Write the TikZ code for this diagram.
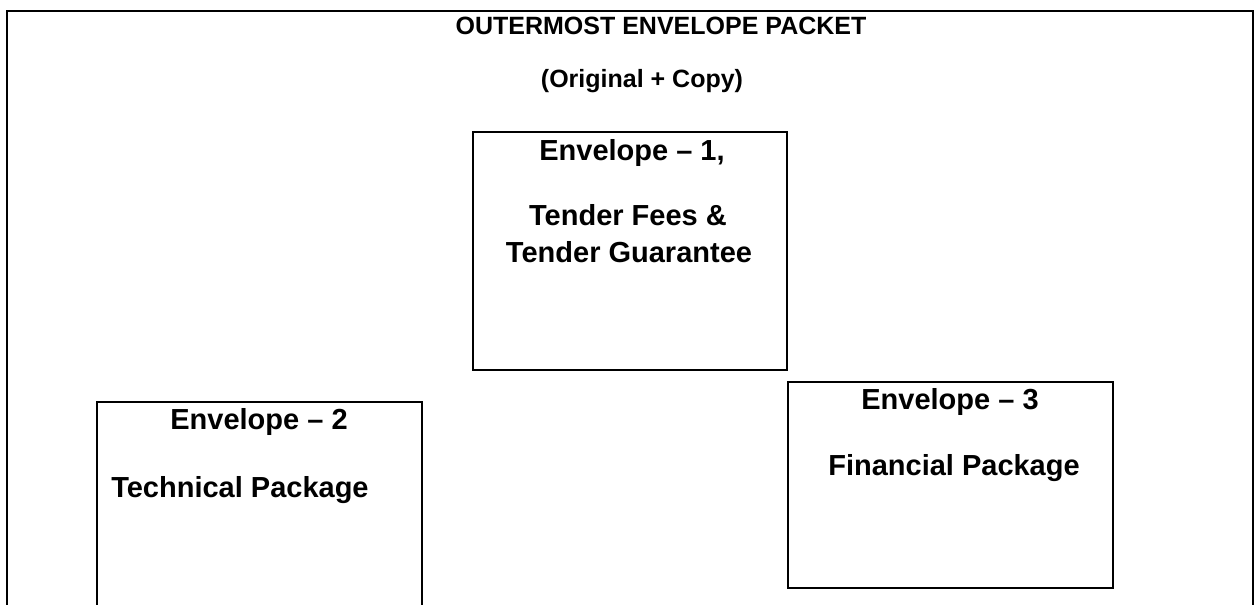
\documentclass[tikz,border=0pt]{standalone}
\usepackage{fontspec}
\setmainfont{Liberation Sans}
\tikzset{
  frame/.style={draw=black, line width=1.6pt, inner sep=0pt},
  envbox/.style={draw=black, line width=1.3pt, inner sep=0pt},
  headtxt/.style={anchor=base, inner sep=0pt, font=\fontsize{18.75pt}{22pt}\selectfont\bfseries},
  envtxt/.style={anchor=base, inner sep=0pt, font=\fontsize{21.75pt}{26pt}\selectfont\bfseries}
}
\begin{document}
\begin{tikzpicture}[x=0.75pt, y=-0.75pt]
\useasboundingbox (0,0) rectangle (1255,604);
\clip (0,0) rectangle (1255,604);
\fill[white] (0,0) rectangle (1255,604);
% outer envelope (open at the bottom edge of the picture)
\node[frame, minimum width=934.5pt, minimum height=516.75pt] (outer) at (630,355.5) {};
\node[headtxt] (title) at (661,34) {OUTERMOST ENVELOPE PACKET};
\node[headtxt] (sub) at (642,87) {(Original + Copy)};
% envelope 1
\node[envbox, minimum width=235.5pt, minimum height=178.5pt] (e1) at (630,251) {};
\node[envtxt] (e1a) at (632,160) {Envelope – 1,};
\node[envtxt] (e1b) at (628,225) {Tender Fees \&};
\node[envtxt] (e1c) at (629,262) {Tender Guarantee};
% envelope 2
\node[envbox, minimum width=243.75pt, minimum height=223.5pt] (e2) at (259.5,551) {};
\node[envtxt] (e2a) at (259,429) {Envelope – 2};
\node[envtxt, anchor=base west] (e2b) at (111,497) {Technical Package};
% envelope 3
\node[envbox, minimum width=243.75pt, minimum height=154.5pt] (e3) at (950.5,485) {};
\node[envtxt] (e3a) at (950,409) {Envelope – 3};
\node[envtxt] (e3b) at (954,475) {Financial Package};
\end{tikzpicture}
\end{document}
